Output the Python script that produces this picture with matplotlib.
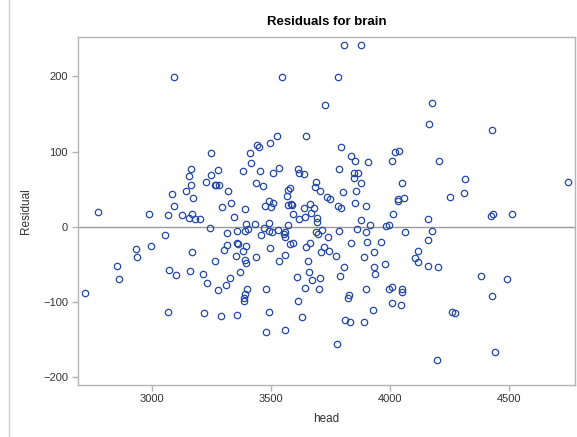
import matplotlib.pyplot as plt
from matplotlib.lines import Line2D

plt.rcParams['font.family'] = ['Liberation Sans', 'DejaVu Sans']

# head (x) and residual (y) values
head = [
    3095, 3250, 3166, 3155, 3250, 3280, 3166, 3227, 3264, 3269, 3284, 3144,
    3084, 3175, 3092, 3295, 2773, 2990, 3070, 3126, 3171, 3155, 3182, 3204,
    3246, 3056, 2999, 2936, 2940, 3304, 3171, 3268, 2855, 2864, 3073, 3102,
    3160, 3216, 3234, 3277, 3311, 2720, 3070, 3220, 3291,
    3528, 3647, 3444, 3450, 3496, 3414, 3417, 3384, 3455, 3508, 3534, 3613,
    3618, 3641, 3438, 3466, 3322, 3689, 3685, 3706, 3573, 3580, 3568, 3737,
    3750, 3333, 3393, 3494, 3476, 3500, 3511, 3574, 3587, 3591, 3640, 3664,
    3683, 3595, 3618, 3644, 3668, 3696, 3693, 3345, 3397, 3435, 3492, 3571,
    3549, 3728,
    3318, 3357, 3393, 3405, 3473, 3458, 3492, 3505, 3529, 3557, 3561, 3560,
    3581, 3592, 3648, 3666, 3689, 3700, 3717, 3740, 3724, 3744, 3711, 3318,
    3357, 3364, 3395, 3384, 3353, 3393, 3397, 3440, 3497, 3535, 3561, 3655,
    3609, 3662, 3672, 3708, 3644, 3704, 3329, 3371, 3402, 3390, 3389, 3389,
    3482, 3613, 3360, 3492, 3633, 3482, 3560,
    3788, 3864, 3902, 4066, 4179, 3837, 3906, 3962, 4162, 3776, 3935, 3891,
    4121, 4106, 4118, 4162, 4202, 3807, 3792, 3935, 3939, 3982, 3902, 3997,
    4008, 4053, 4053, 3829, 3827, 4008, 4048, 3931, 3814, 3834, 3893, 3780,
    4200,
    4166, 3795, 3837, 3855, 3910, 4021, 4038, 4012, 4206, 3787, 3851, 3868,
    3852, 3879, 4050, 3804, 3860, 3783, 3795, 3855, 3902, 4034, 4036, 4061,
    4015, 3879, 3917, 3983, 3997, 4160, 3781, 3808, 3879, 4179,
    4431, 4318, 4311, 4255, 4749, 4424, 4433, 4515, 4384, 4493, 4429, 4261,
    4273, 4442,
]
residual = [
    199, 98, 77, 67, 69, 76, 55, 59, 55, 55, 55, 47,
    43, 38, 28, 26, 20, 17, 16, 16, 17, 12, 11, 10,
    -1, -11, -26, -29, -40, -31, -34, -45, -52, -69, -57, -64,
    -58, -63, -74, -84, -77, -88, -113, -114, -118,
    121, 121, 108, 106, 111, 98, 85, 74, 74, 71, 78, 77,
    72, 70, 58, 54, 48, 59, 53, 48, 49, 51, 41, 40,
    37, 32, 23, 34, 28, 26, 31, 29, 30, 29, 25, 30,
    25, 17, 11, 13, 19, 12, 6, 13, 4, 4, 5, 3,
    199, 162,
    -8, -5, -5, -3, -1, -11, -5, -7, -4, -10, -7, -13,
    -23, -21, -27, -22, -7, -10, -4, -14, -27, -32, -33, -24,
    -21, -23, -25, -32, -39, -44, -48, -40, -28, -46, -38, -46,
    -67, -60, -70, -68, -81, -82, -68, -60, -82, -89, -94, -99,
    -82, -98, -117, -113, -120, -139, -137,
    -5, -3, -7, -7, -5, -21, -20, -20, -17, -39, -33, -40,
    -32, -42, -47, -52, -53, -53, -65, -53, -63, -50, -83, -82,
    -80, -82, -87, -90, -94, -101, -104, -110, -124, -127, -127, -156,
    -177,
    137, 106, 94, 88, 86, 100, 101, 87, 88, 77, 72, 71,
    65, 58, 58, 46, 48, 28, 25, 32, 27, 37, 34, 38,
    17, 9, 3, 1, 2, 11, 199, 242, 241, 165,
    128, 63, 45, 39, 59, 14, 17, 17, -65, -69, -92, -113,
    -115, -166,
]

x_ticks = [3000, 3500, 4000, 4500]
y_ticks = [-200, -100, 0, 100, 200]

fig = plt.figure(figsize=(5.77, 4.37), dpi=100)
ax = fig.add_axes([0.1347, 0.1197, 0.8618, 0.7956])

ax.axhline(0, color='#9a9a9a', lw=1.0, zorder=1)
ax.plot(head, residual, 'o', mfc='none', mec='#2448a8', ms=4.6, mew=0.9,
        zorder=2)

ax.set_xlim(2689, 4779)
ax.set_ylim(-209.6, 252)
ax.set_xticks(x_ticks)
ax.set_yticks(y_ticks)

for s in ax.spines.values():
    s.set_color('#b4b4b4')
    s.set_linewidth(1.0)
ax.tick_params(direction='out', length=4, width=1, color='#b4b4b4',
               labelsize=8, labelcolor='#333333', pad=3)

ax.set_xlabel('head', fontsize=8.5, color='#333333', labelpad=6)
ax.set_ylabel('Residual', fontsize=8.5, color='#333333', labelpad=8)
ax.set_title('Residuals for brain', fontsize=9.5, fontweight='bold', pad=9)

# thin frame line at the left edge of the graph area
fig.add_artist(Line2D([9 / 577, 9 / 577], [0, 1], color='#cccccc', lw=1,
                      transform=fig.transFigure))

fig.savefig('out.png', dpi=100)
